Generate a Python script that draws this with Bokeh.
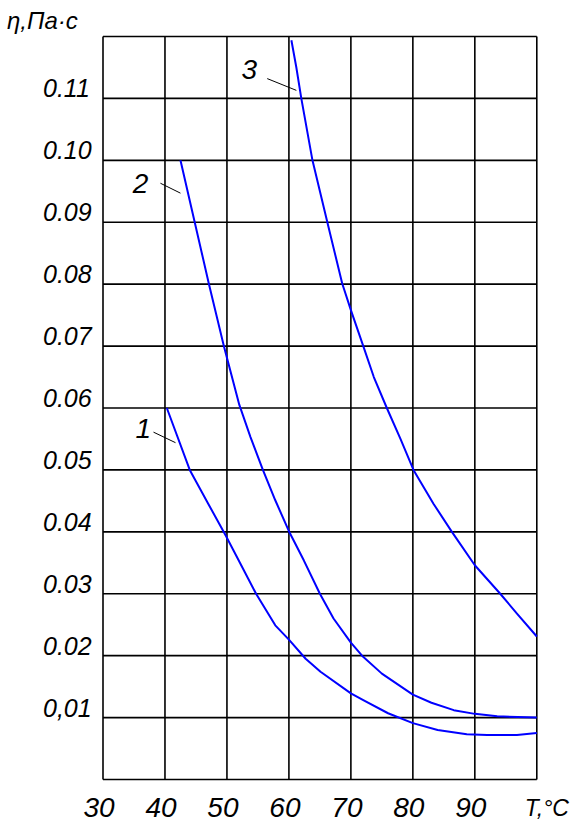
from bokeh.plotting import figure
from bokeh.models import ColumnDataSource, LabelSet, Range1d
from bokeh.core.properties import value
from bokeh.embed import file_html
from bokeh.resources import INLINE

# ---- data ----
x_grid = [30, 40, 50, 60, 70, 80, 90, 100]
y_grid = [0.0, 0.01, 0.02, 0.03, 0.04, 0.05, 0.06, 0.07, 0.08, 0.09, 0.10, 0.11, 0.12]
x_ticks = [30, 40, 50, 60, 70, 80, 90]
x_tick_labels = ["30", "40", "50", "60", "70", "80", "90"]
x_title = "T,°C"
y_ticks = [0.11, 0.10, 0.09, 0.08, 0.07, 0.06, 0.05, 0.04, 0.03, 0.02, 0.01]
y_tick_labels = ["0.11", "0.10", "0.09", "0.08", "0.07", "0.06", "0.05",
                 "0.04", "0.03", "0.02", "0,01"]
y_title = "η,Па·с"

T1 = [40.3, 44.0, 47.0, 49.8, 52.2, 54.7, 57.8, 60.0, 62.7, 65.1, 70.0, 72.0, 76.0, 80.0, 84.0, 88.7, 92.0, 96.8, 100.0]
eta1 = [0.060, 0.050, 0.0445, 0.0394, 0.0348, 0.0300, 0.0249, 0.0226, 0.0195, 0.0174, 0.0139, 0.0128, 0.0107, 0.0091, 0.0080, 0.0073, 0.0072, 0.0072, 0.0075]

T2 = [42.5, 44.8, 47.1, 49.5, 52.0, 53.8, 55.8, 57.8, 60.0, 62.4, 65.0, 67.2, 70.0, 71.8, 75.0, 80.0, 83.0, 86.6, 90.0, 93.6, 100.0]
eta2 = [0.100, 0.090, 0.080, 0.070, 0.0605, 0.0553, 0.050, 0.0451, 0.0401, 0.0354, 0.030, 0.0260, 0.0221, 0.020, 0.0171, 0.0137, 0.0124, 0.0112, 0.0106, 0.0102, 0.0100]

T3 = [60.4, 61.2, 62.0, 63.8, 66.2, 68.6, 70.0, 72.0, 73.7, 75.8, 78.0, 80.1, 83.35, 86.3, 90.0, 94.1, 96.8, 100.0]
eta3 = [0.1194, 0.115, 0.110, 0.100, 0.090, 0.0801, 0.0758, 0.070, 0.065, 0.060, 0.055, 0.050, 0.0445, 0.040, 0.0346, 0.030, 0.0268, 0.0231]

curve_names = ["1", "2", "3"]
name_x = [36.5, 36.05, 53.6]
name_y = [0.0552, 0.0947, 0.1131]
leader_x0 = [38.15, 39.27, 56.5]
leader_y0 = [0.0561, 0.0963, 0.1132]
leader_x1 = [41.7, 42.5, 61.2]
leader_y1 = [0.0544, 0.0947, 0.1113]

# ---- layout (pixels) ----
W, H = 575, 827
LEFT, RIGHT, TOP, BOTTOM = 102.5, 536.3, 36.0, 779.0
x0, x1 = x_grid[0], x_grid[-1]
y0, y1 = y_grid[0], y_grid[-1]
kx = (RIGHT - LEFT) / (x1 - x0)
ky = (BOTTOM - TOP) / (y1 - y0)

p = figure(width=W, height=H,
           x_range=Range1d(x0 - LEFT / kx, x1 + (W - RIGHT) / kx),
           y_range=Range1d(y0 - (H - BOTTOM) / ky, y1 + TOP / ky),
           output_backend="svg", toolbar_location=None,
           min_border=0, min_border_left=0, min_border_right=0,
           min_border_top=0, min_border_bottom=0)
p.axis.visible = False
p.grid.visible = False
p.outline_line_color = None
p.background_fill_color = "white"
p.border_fill_color = "white"

# grid + border
p.segment(x0=x_grid, y0=[y0] * len(x_grid), x1=x_grid, y1=[y1] * len(x_grid),
          line_color="black", line_width=1.6)
p.segment(x0=[x0] * len(y_grid), y0=y_grid, x1=[x1] * len(y_grid), y1=y_grid,
          line_color="black", line_width=1.6)

for T, eta in ((T1, eta1), (T2, eta2), (T3, eta3)):
    p.line(T, eta, line_color="#0000ff", line_width=2, line_join="round")

p.segment(leader_x0, leader_y0, leader_x1, leader_y1, line_color="black", line_width=1)

FONT = "Liberation Sans"

ysrc = ColumnDataSource(dict(x=[x0] * len(y_ticks), y=y_ticks, t=y_tick_labels))
p.add_layout(LabelSet(x="x", y="y", text="t", source=ysrc, x_offset=-60, y_offset=1,
                      text_align="left", text_baseline="alphabetic",
                      text_font=value(FONT), text_font_style="italic",
                      text_font_size="25px", text_color="black"))

xsrc = ColumnDataSource(dict(x=x_ticks, y=[y0] * len(x_ticks), t=x_tick_labels))
p.add_layout(LabelSet(x="x", y="y", text="t", source=xsrc, x_offset=-4, y_offset=-37,
                      text_align="center", text_baseline="alphabetic",
                      text_font=value(FONT), text_font_style="italic",
                      text_font_size="28px", text_color="black"))

tsrc = ColumnDataSource(dict(x=[x1], y=[y0], t=[x_title]))
p.add_layout(LabelSet(x="x", y="y", text="t", source=tsrc, x_offset=-12, y_offset=-36,
                      text_align="left", text_baseline="alphabetic",
                      text_font=value(FONT), text_font_style="italic",
                      text_font_size="23px", text_color="black"))

ttl = ColumnDataSource(dict(x=[x0], y=[y1], t=[y_title]))
p.add_layout(LabelSet(x="x", y="y", text="t", source=ttl, x_offset=-96, y_offset=8,
                      text_align="left", text_baseline="alphabetic",
                      text_font=value(FONT), text_font_style="italic",
                      text_font_size="24px", text_color="black"))

nsrc = ColumnDataSource(dict(x=name_x, y=name_y, t=curve_names))
p.add_layout(LabelSet(x="x", y="y", text="t", source=nsrc,
                      text_align="center", text_baseline="alphabetic",
                      text_font=value(FONT), text_font_style="italic",
                      text_font_size="28px", text_color="black"))

open("out.html", "w").write(file_html(p, INLINE))
